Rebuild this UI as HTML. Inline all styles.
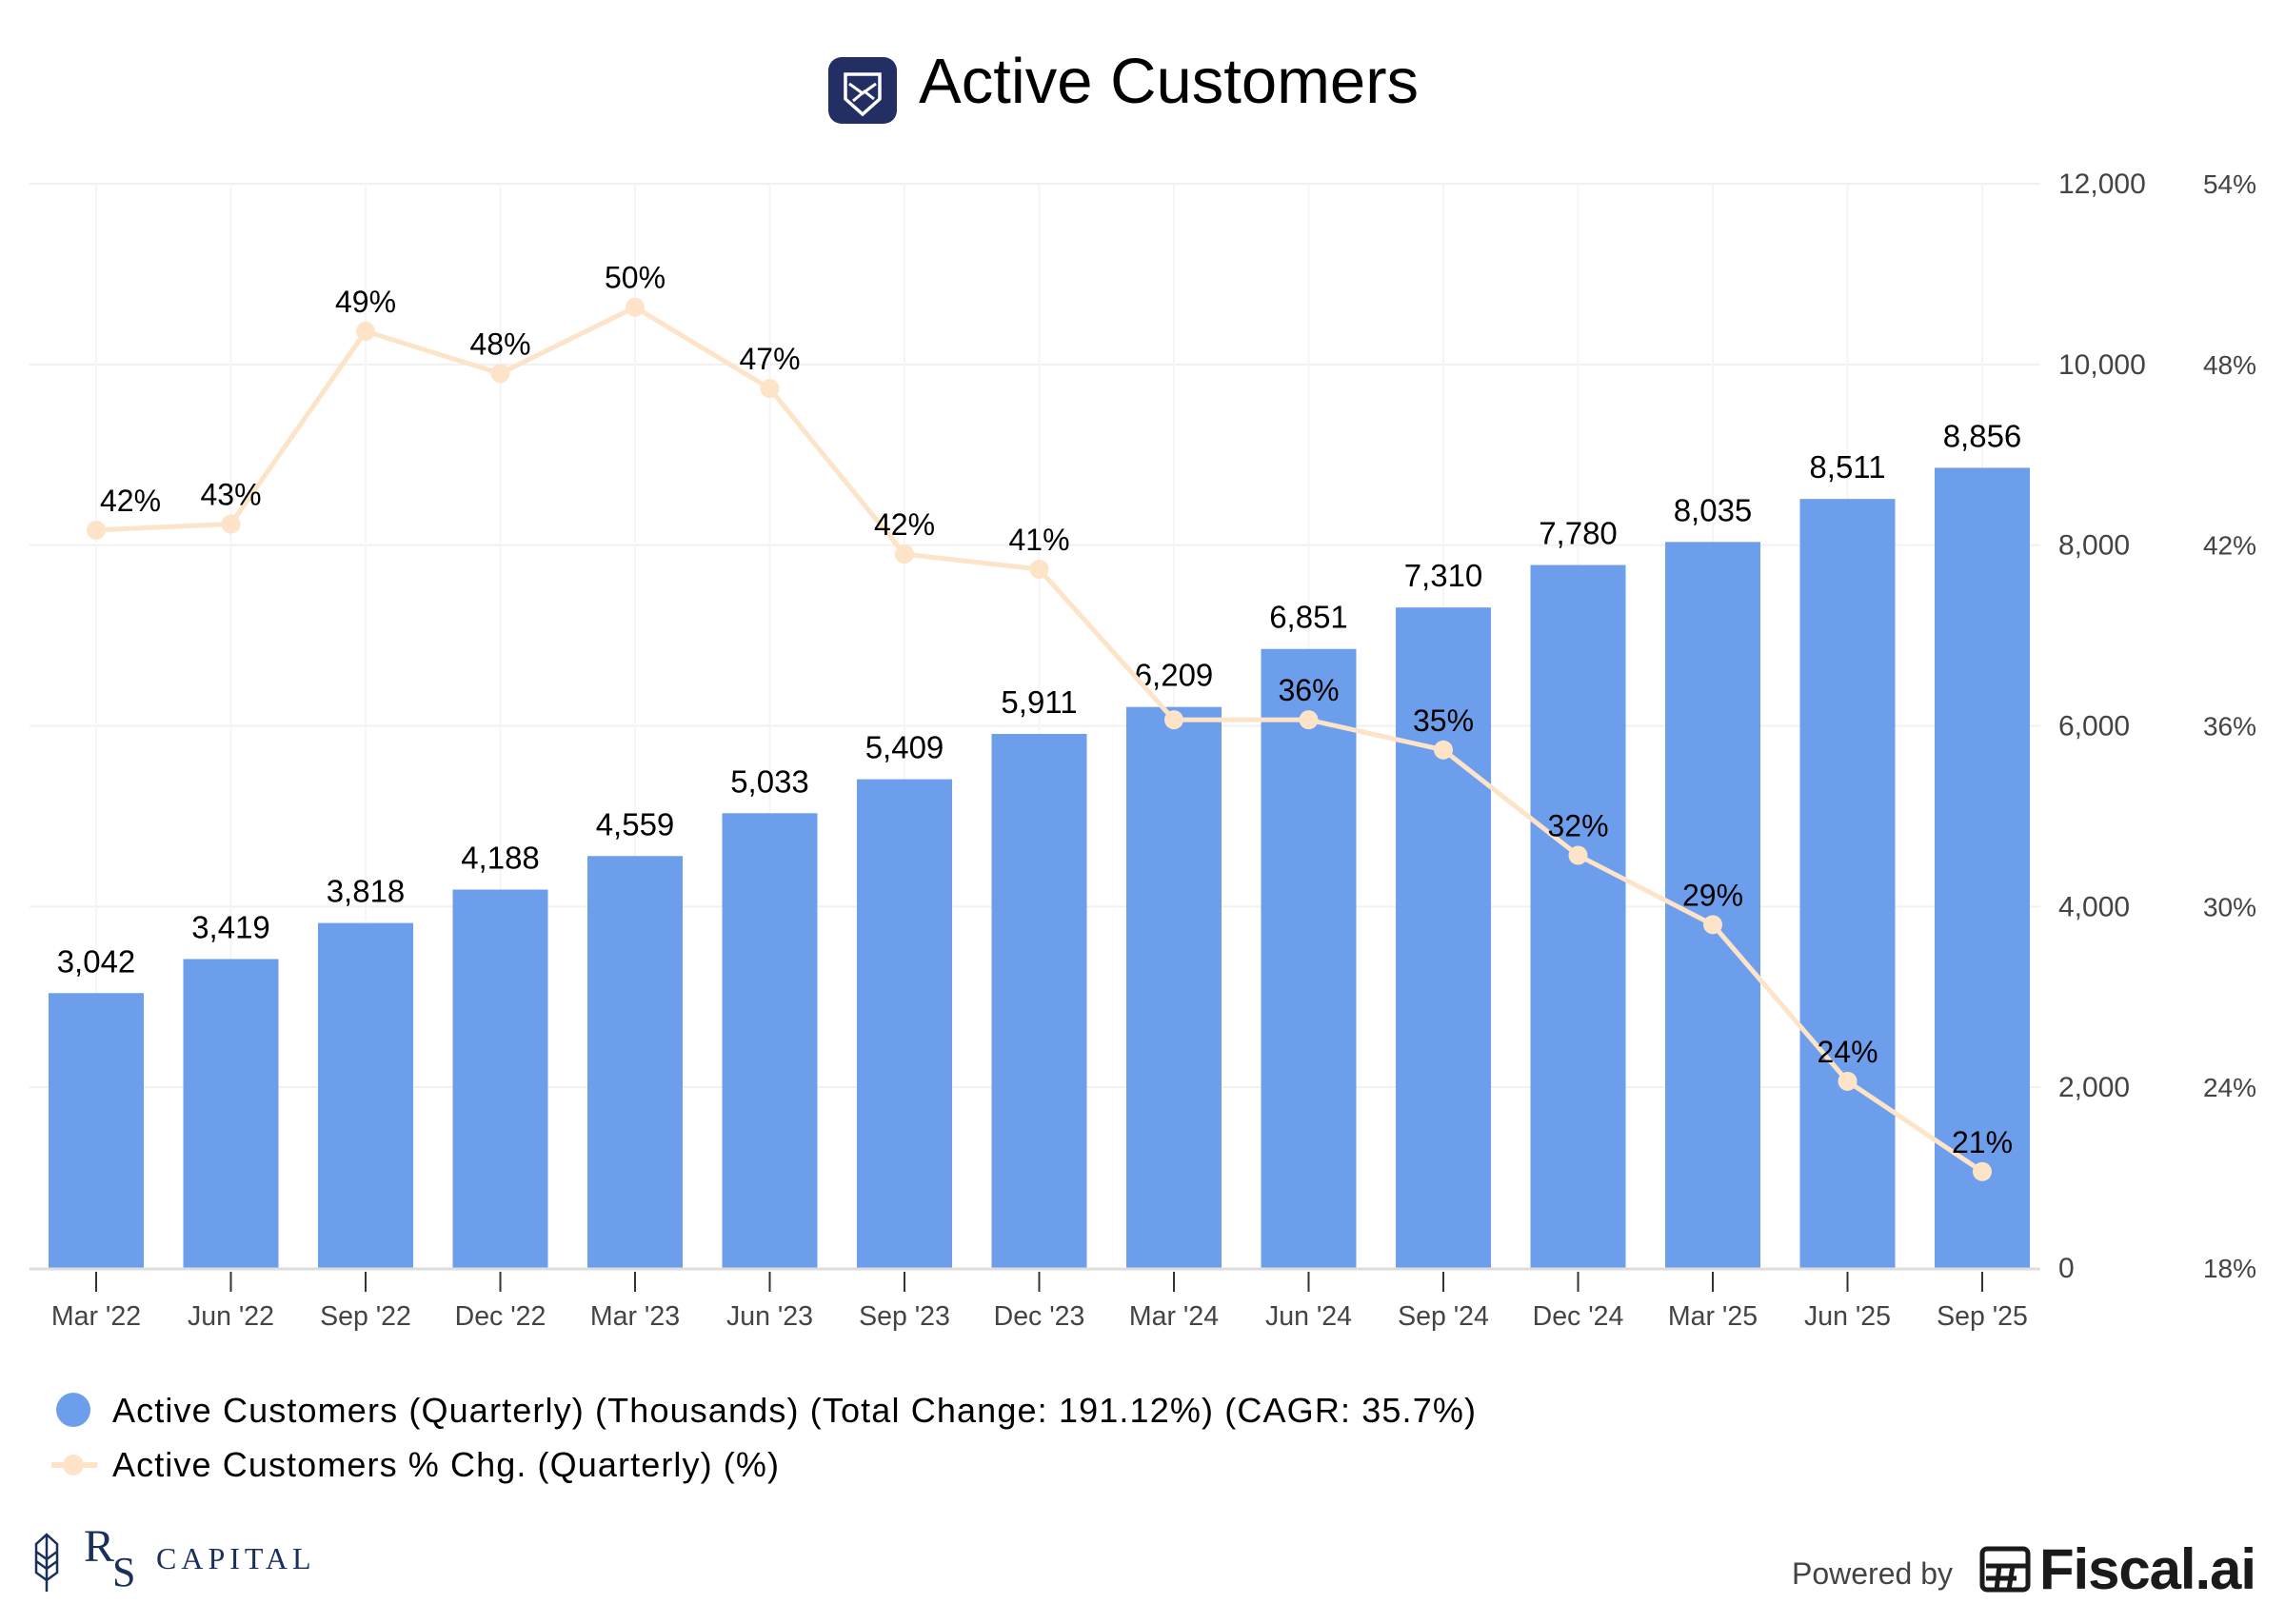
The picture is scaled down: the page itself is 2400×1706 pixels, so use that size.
<!DOCTYPE html>
<html><head><meta charset="utf-8">
<style>
html,body{margin:0;padding:0;background:#fff;}
body{width:2400px;height:1701px;overflow:hidden;font-family:"Liberation Sans",Arial,sans-serif;}
</style></head>
<body>
<svg id="chart" width="2400" height="1701" viewBox="0 0 2400 1701" xmlns="http://www.w3.org/2000/svg" font-family="Liberation Sans, Arial, sans-serif">
  <g>
    <rect x="870" y="60" width="72" height="70" rx="14" fill="#232e63"/>
    <path d="M888 78 L924 78 L924 104 L906 120 L888 104 Z" fill="none" stroke="#fff" stroke-width="3.5"/>
    <path d="M892 88 L906 98 L920 88 M896 106 L908 96 L918 104" fill="none" stroke="#fff" stroke-width="3"/>
  </g>
  <text x="965" y="108" font-size="67" textLength="525" fill="#000">Active Customers</text>
  <g id="grid"></g>
  <g id="bars"></g>
  <g id="line"></g>
  <g id="axes"></g>
  <g>
    <g>
      <circle cx="77" cy="1481" r="18" fill="#6d9eeb"/>
      <text x="118" y="1494" font-size="36" textLength="1432" fill="#000">Active Customers (Quarterly) (Thousands) (Total Change: 191.12%) (CAGR: 35.7%)</text>
    </g>
    <g>
      <line x1="54" y1="1539" x2="102" y2="1539" stroke="#fde3c7" stroke-width="6"/>
      <circle cx="77" cy="1539" r="11" fill="#fde3c7"/>
      <text x="118" y="1551" font-size="36" textLength="700" fill="#000">Active Customers % Chg. (Quarterly) (%)</text>
    </g>
  </g>
  <g>
    <path d="M49 1612 L60 1622 L60 1652 L49 1660 L38 1652 L38 1622 Z M49 1612 L49 1672 M38 1630 L49 1638 L60 1630 M38 1640 L49 1648 L60 1640" fill="none" stroke="#1b2f5c" stroke-width="2.5"/>
    <text x="88" y="1640" font-family="Liberation Serif, serif" font-size="48" fill="#1b2f5c">R</text>
    <text x="118" y="1666" font-family="Liberation Serif, serif" font-size="44" fill="#1b2f5c">S</text>
    <text x="164" y="1648" font-family="Liberation Serif, serif" font-size="32" letter-spacing="5" fill="#1b2f5c">CAPITAL</text>
  </g>
  <g>
    <text x="1882" y="1664" font-size="32" fill="#444">Powered by</text>
    <g fill="none" stroke="#1a1a1a" stroke-width="5">
      <rect x="2082" y="1627" width="48" height="43" rx="5"/>
      <path d="M2086 1645 L2128 1645 M2086 1658 L2118 1658 M2100 1645 L2097 1670 M2114 1645 L2110 1670"/>
    </g>
    <text x="2142" y="1669" font-size="60" font-weight="bold" textLength="228" fill="#1a1a1a">Fiscal.ai</text>
  </g>
</svg>
<script>
const categories = ["Mar '22","Jun '22","Sep '22","Dec '22","Mar '23","Jun '23","Sep '23","Dec '23","Mar '24","Jun '24","Sep '24","Dec '24","Mar '25","Jun '25","Sep '25"];
const customers = [3042,3419,3818,4188,4559,5033,5409,5911,6209,6851,7310,7780,8035,8511,8856];
const pctChange = [42.5,42.7,49.1,47.7,49.9,47.2,41.7,41.2,36.2,36.2,35.2,31.7,29.4,24.2,21.2];
const pctLabels = ["42%","43%","49%","48%","50%","47%","42%","41%","","36%","35%","32%","29%","24%","21%"];
const leftTicks = [0,2000,4000,6000,8000,10000,12000];
const rightTicks = [18,24,30,36,42,48,54];

const NS = "http://www.w3.org/2000/svg";
const plotTop = 193, plotBottom = 1332, plotLeft = 31, plotRight = 2143;
const x0 = 101, step = 141.5, barW = 100;
function xPos(i){ return x0 + i*step; }
function yLeft(v){ return plotBottom - (v/12000)*(plotBottom-plotTop); }
function yRight(p){ return plotBottom - ((p-18)/36)*(plotBottom-plotTop); }
function mk(tag, attrs, parent){ const e=document.createElementNS(NS,tag); for(const k in attrs) e.setAttribute(k,attrs[k]); parent.appendChild(e); return e; }
const grid=document.getElementById('grid'), bars=document.getElementById('bars'), line=document.getElementById('line'), axes=document.getElementById('axes');

leftTicks.forEach((t,i)=>{
  const y=yLeft(t);
  if(t>0){ const g=mk('line',{x1:plotLeft,x2:plotRight,y1:y,y2:y,stroke:'#f0f0f0','stroke-width':2},grid);
  
   }
  const tl=mk('text',{x:2162,y:y+10,'font-size':30,fill:'#444'},axes); tl.textContent=t.toLocaleString('en-US');
  
  
  const tr=mk('text',{x:2342,y:y+10,'font-size':28,fill:'#444','text-anchor':'middle'},axes); tr.textContent=rightTicks[i]+'%';
  
  
});
categories.forEach((c,i)=>{
  const vg=mk('line',{x1:xPos(i),x2:xPos(i),y1:plotTop,y2:plotBottom,stroke:'#f5f5f5','stroke-width':2},grid);
  
  
});
const axisLine=mk('line',{x1:plotLeft,x2:plotRight,y1:plotBottom+1,y2:plotBottom+1,stroke:'#ddd','stroke-width':3},axes);



customers.forEach((v,i)=>{
  const x=xPos(i), y=yLeft(v);
  const r=mk('rect',{x:x-barW/2,y:y,width:barW,height:plotBottom-y,fill:'#6d9eeb'},bars);
  
  
  const t=mk('text',{x:x,y:y-22,'font-size':33,fill:'#000','text-anchor':'middle'},bars); t.textContent=v.toLocaleString('en-US');
  
  
  const tk=mk('line',{x1:x,x2:x,y1:plotBottom+4,y2:plotBottom+25,stroke:'#333','stroke-width':2},axes);
  
  
  const cl=mk('text',{x:x,y:1392,'font-size':28.5,fill:'#444','text-anchor':'middle'},axes); cl.textContent=categories[i];
  
  
});

const pts=pctChange.map((p,i)=>xPos(i)+','+yRight(p)).join(' ');
const pl=mk('polyline',{points:pts,fill:'none',stroke:'#fde3c7','stroke-width':5,'stroke-linejoin':'round'},line);


pctChange.forEach((p,i)=>{
  const c=mk('circle',{cx:xPos(i),cy:yRight(p),r:10,fill:'#fde3c7'},line);
  
  
  if(pctLabels[i]){
    const t=mk('text',{x:xPos(i)+(i===0?36:0),y:yRight(p)-20,'font-size':32,fill:'#000','text-anchor':'middle'},line); t.textContent=pctLabels[i];
    
    
  }
});
</script>
</body></html>
